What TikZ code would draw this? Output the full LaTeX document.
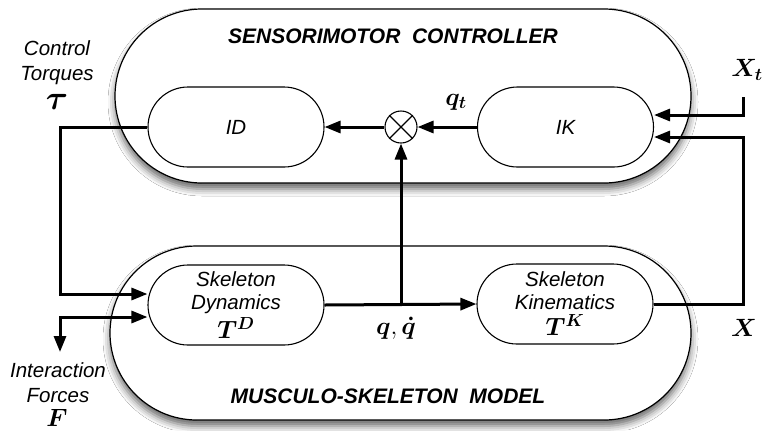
\RequirePackage{fix-cm}
\documentclass[tikz,border=0pt]{standalone}
\usepackage{amsmath}
\usepackage{fontspec}
\setmainfont{Liberation Sans}
\usetikzlibrary{shapes.misc,arrows.meta,shadows.blur,calc}
\begin{document}
\begin{tikzpicture}[x=1bp,y=-1bp,
  cont/.style={rounded rectangle, draw, line width=1.2bp, fill=white, minimum height=174bp, inner sep=0pt,
    blur shadow={shadow xshift=0bp, shadow yshift=-6bp, shadow blur radius=7bp, shadow opacity=60}},
  blk/.style={rounded rectangle, draw, line width=1.1bp, fill=white, minimum height=80bp, minimum width=176bp, inner sep=0pt, align=center, font=\itshape\fontsize{20.5bp}{23bp}\selectfont},
  conn/.style={line width=3bp, -{Triangle[length=16bp,width=12bp]}},
  ttl/.style={font=\bfseries\itshape\fontsize{21bp}{24bp}\selectfont},
  lbl/.style={font=\itshape\fontsize{20.5bp}{25bp}\selectfont, align=center, inner sep=0pt},
  mth/.style={font=\fontsize{25bp}{30bp}\selectfont, inner sep=0pt}
]
\useasboundingbox[fill=white] (0,0) rectangle (765,430);

% containers
\node[cont, minimum width=576bp] (top) at (403,96) {};
\node[cont, minimum width=581bp] (bot) at (400.5,333) {};
\node[ttl] (ttop) at (393,36) {SENSORIMOTOR\ \ CONTROLLER};
\node[ttl] (tbot) at (388,396) {MUSCULO-SKELETON\ \ MODEL};

% blocks
\node[blk] (ID) at (236,127) {ID};
\node[blk] (IK) at (565.5,127) {IK};
\node[blk] (SD) at (236,305) {Skeleton\\Dynamics\\[3bp]{\fontsize{25bp}{25bp}\selectfont$\boldsymbol{T^{D}}$}};
\node[blk] (SK) at (565,304) {Skeleton\\Kinematics\\[3bp]{\fontsize{25bp}{25bp}\selectfont$\boldsymbol{T^{K}}$}};

% summing junction
\node[circle, draw, line width=1.1bp, fill=white, minimum size=32bp, inner sep=0pt] (S) at (401,127) {};
\draw[line width=1.1bp] (S.45) -- (S.225) (S.135) -- (S.315);

% coordinates
\coordinate (J) at (S |- SD.east);
\coordinate (tl) at (60,294);
\coordinate (fc) at (60,317);
\coordinate (fe) at (60,352);
\coordinate (xt0) at (743,97);
\coordinate (xt1) at (743,115);
\coordinate (xr) at (743,137);

% connectors
\draw[conn] (S.west) -- (ID.east);
\draw[conn] (IK.west) -- (S.east);
\draw[conn] (SD.east) -- (SK.west);
\draw[conn] (J) -- (S.south);
\draw[conn] (ID.west) -| (tl) -- (tl -| SD.west);
\draw[line width=3bp, {Triangle[length=16bp,width=12bp]}-{Triangle[length=16bp,width=12bp]}] (fe) -- (fc) -- (fc -| SD.west);
\draw[conn] (xt0) -- (xt1) -- (xt1 -| IK.east);
\draw[conn] (SK.east) -| (xr) -- (xr -| IK.east);

% labels
\node[lbl] (ct) at (57,63) {Control\\Torques};
\node[mth, font=\fontsize{34bp}{34bp}\selectfont] (tau) at (57,102) {$\boldsymbol{\tau}$};
\node[lbl] (if) at (58,383) {Interaction\\Forces};
\node[mth] (F) at (57,418) {$\boldsymbol{F}$};
\node[mth] (qt) at (456,102) {$\boldsymbol{q_t}$};
\node[mth] (qq) at (396,328) {$\boldsymbol{q},\boldsymbol{\dot{q}}$};
\node[mth] (Xt) at (747,70) {$\boldsymbol{X_t}$};
\node[mth] (X) at (744,328) {$\boldsymbol{X}$};
\end{tikzpicture}
\end{document}
